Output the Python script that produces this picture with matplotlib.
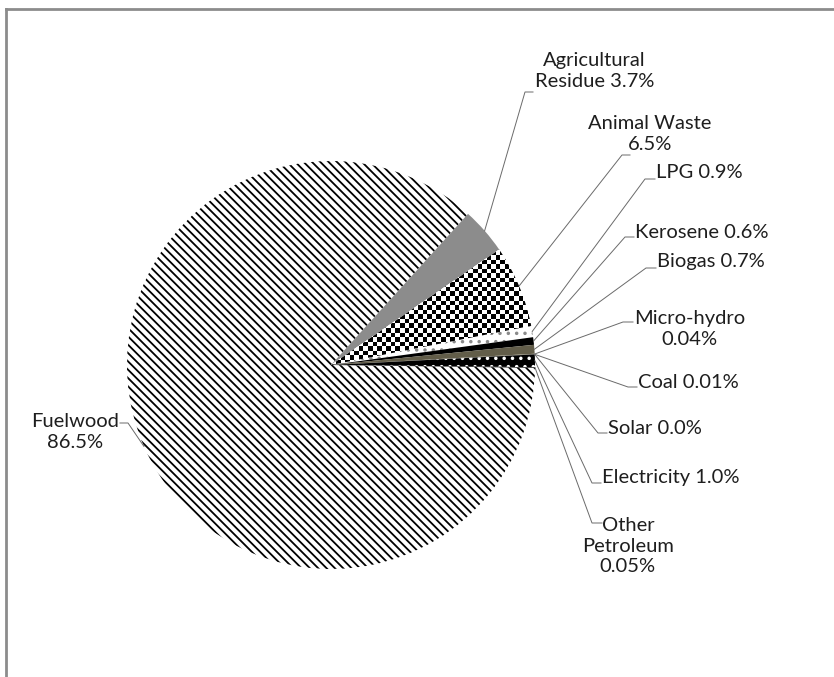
import numpy as np
import matplotlib.pyplot as plt
from matplotlib.lines import Line2D

plt.rcParams['font.family'] = ['Lato', 'DejaVu Sans']
plt.rcParams['hatch.linewidth'] = 1.3

# household energy mix, share of total consumption (%)
fuels = ['Fuelwood', 'Agricultural Residue', 'Animal Waste', 'LPG', 'Kerosene',
         'Biogas', 'Micro-hydro', 'Coal', 'Solar', 'Electricity', 'Other Petroleum']
share_text = ['86.5', '3.7', '6.5', '0.9', '0.6', '0.7', '0.04', '0.01', '0.0', '1.0', '0.05']
shares = [float(s) for s in share_text]
label_fmt = ['Fuelwood\n{}%', 'Agricultural\nResidue {}%', 'Animal Waste\n{}%', 'LPG {}%',
             'Kerosene {}%', 'Biogas {}%', 'Micro-hydro\n{}%', 'Coal {}%', 'Solar {}%',
             'Electricity {}%', 'Other\nPetroleum\n{}%']

# fills
faces = ['white', '#8c8c8c', 'white', 'white', 'black', '#625d49',
         '#8a8266', 'black', 'white', 'black', 'black']
hatches = ['\\\\\\\\', None, None, '..', None, None, None, None, None, '..', None]
hatch_colors = ['black', None, None, '#8a8a8a', None, None, None, None, None, 'white', None]

# label placement in pixels: text anchor (x, y) and leader elbow (x_join, x_text, y)
text_xy = [(119, 432), (535, 71), (588, 134), (656, 173), (635, 232), (657, 262),
           (634, 329), (638, 382), (608, 428), (602, 477), (582, 546)]
elbows = [(128, 120, 423), (525, 533, 92), (622, 630, 155), (645, 655, 179),
          (625, 634, 237), (646, 656, 268), (623, 633, 322), (628, 637, 387),
          (598, 607, 433), (592, 601, 483), (592, 602, 523)]

W, H = 834, 677
CX, CY, R = 331, 365, 204


def to_data(px, py):
    return (px - CX) / R, (CY - py) / R


fig = plt.figure(figsize=(W / 100, H / 100), dpi=100)
ax = fig.add_axes([0, 0, 1, 1])

wedges, _ = ax.pie(shares, startangle=-0.8, counterclock=False,
                   colors=faces, wedgeprops=dict(linewidth=0))
for w, h, hc in zip(wedges, hatches, hatch_colors):
    if h:
        w.set_hatch(h)
        w.set_edgecolor(hc)
        w.set_linewidth(0)

# checkerboard fill for animal waste
n = 94
checker = np.indices((n, n)).sum(axis=0) % 2
im = ax.imshow(checker, cmap='gray', extent=(-1.05, 1.05, -1.05, 1.05),
               interpolation='nearest', aspect='auto', zorder=wedges[2].zorder + 0.1)
im.set_clip_path(wedges[2])

# leaders and labels
for i, w in enumerate(wedges):
    mid = np.deg2rad((w.theta1 + w.theta2) / 2)
    x0, y0 = np.cos(mid), np.sin(mid)
    xj, xt, yh = elbows[i]
    x1, y1 = to_data(xj, yh)
    x2, y2 = to_data(xt, yh)
    ax.plot([x0, x1, x2], [y0, y1, y2], color='#6a6a6a', lw=0.7, zorder=5)
    tx, ty = to_data(*text_xy[i])
    ha = 'right' if i == 0 else 'left'
    ax.text(tx, ty, label_fmt[i].format(share_text[i]), ha=ha, va='center',
            multialignment='center', fontsize=14.5, color='#1e1e1e',
            linespacing=1.25)

ax.set_xlim(-CX / R, (W - CX) / R)
ax.set_ylim(-(H - CY) / R, CY / R)
ax.set_aspect('auto')
ax.axis('off')

# chart area border (right and bottom edges fall outside the image)
fig.add_artist(Line2D([5.5 / W, 1], [1 - 9 / H, 1 - 9 / H], color='#8c8c8c', lw=2,
                      transform=fig.transFigure))
fig.add_artist(Line2D([5.5 / W, 5.5 / W], [0, 1 - 9 / H], color='#8c8c8c', lw=2,
                      transform=fig.transFigure))

fig.savefig('out.png', dpi=100)
